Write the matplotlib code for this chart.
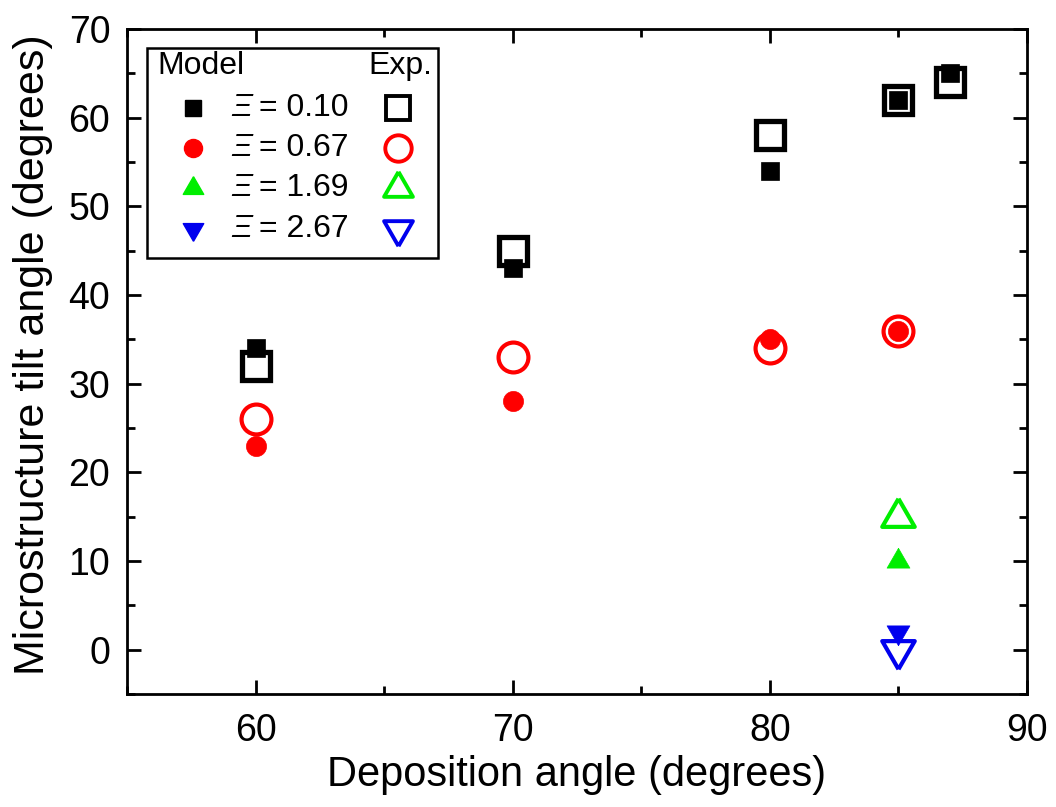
import numpy as np
import matplotlib
matplotlib.use("Agg")
import matplotlib.pyplot as plt
from matplotlib.ticker import MultipleLocator
from matplotlib.patches import Rectangle

plt.rcParams['font.family'] = ['Liberation Sans', 'DejaVu Sans']

# model results (filled) and experiment (open), one pair per Xi value
xi_labels = ['0.10', '0.67', '1.69', '2.67']
colors = ['#000000', '#ff0000', '#00ee00', '#0000ee']

model_x = [[60, 70, 80, 85, 87], [60, 70, 80, 85], [85], [85]]
model_y = [[34, 43, 54, 62, 65], [23, 28, 35, 36], [10], [2]]
exp_x = [[60, 70, 80, 85, 87], [60, 70, 80, 85], [85], [85]]
exp_y = [[32, 45, 58, 62, 64], [26, 33, 34, 36], [15], [0]]

# triangles with the centroid on the data point
tri_up = [(0, 1), (-0.866, -0.5), (0.866, -0.5), (0, 1)]
tri_dn = [(0, -1), (-0.866, 0.5), (0.866, 0.5), (0, -1)]
markers = ['s', 'o', tri_up, tri_dn]
fill_ms = [13.5, 14.5, 19, 19]
open_ms = [19.5, 21.5, 27, 27]
open_mew = [3.8, 3.0, 3.0, 3.0]

fig = plt.figure(figsize=(10.56, 8.07), dpi=100)
ax = fig.add_axes([0.1203, 0.140, 0.8522, 0.824])

for i in range(4):
    ax.plot(exp_x[i], exp_y[i], ls='none', marker=markers[i], ms=open_ms[i],
            mfc='none', mec=colors[i], mew=open_mew[i], zorder=3)
for i in range(4):
    ax.plot(model_x[i], model_y[i], ls='none', marker=markers[i], ms=fill_ms[i],
            mfc=colors[i], mec=colors[i], mew=0.5, zorder=4)

ax.set_xlim(55, 90)
ax.set_ylim(-5, 70)
ax.xaxis.set_major_locator(MultipleLocator(10))
ax.xaxis.set_minor_locator(MultipleLocator(5))
ax.yaxis.set_major_locator(MultipleLocator(10))
ax.yaxis.set_minor_locator(MultipleLocator(5))
ax.tick_params(which='both', direction='in', top=True, right=True, width=2,
               labelsize=27)
ax.tick_params(which='major', length=10)
ax.tick_params(which='minor', length=5.5)
ax.tick_params(axis='x', pad=14)
ax.tick_params(axis='y', pad=12)
for s in ax.spines.values():
    s.set_linewidth(2)

ax.set_xlabel('Deposition angle (degrees)', fontsize=30, labelpad=4)
ax.set_ylabel('Microstructure tilt angle (degrees)', fontsize=31, labelpad=11)
ax.yaxis.label.set_y(0.51)

# hand-made legend box: filled model marker, label, open experiment marker
def axpos(px, py):
    return (px - 127) / 900.0, (694 - py) / 665.0

x0, y1 = axpos(147, 48)
x1, y0 = axpos(438, 258)
ax.add_patch(Rectangle((x0, y0), x1 - x0, y1 - y0, transform=ax.transAxes,
                       fill=False, lw=1.8, ec='black', zorder=5))
hx, hy = axpos(157, 66)
ax.text(hx, hy, 'Model', transform=ax.transAxes, fontsize=23,
        ha='left', va='center', zorder=6)
hx, hy = axpos(432, 66)
ax.text(hx, hy, 'Exp.', transform=ax.transAxes, fontsize=23,
        ha='right', va='center', zorder=6)

row_py = [108, 148, 188, 229]
leg_fill = [12, 13, 17, 17]
leg_open = [17, 19, 24, 24]
for i in range(4):
    mx, my = axpos(193, row_py[i])
    ax.plot([mx], [my], transform=ax.transAxes, marker=markers[i],
            ms=leg_fill[i], mfc=colors[i], mec=colors[i], ls='none',
            clip_on=False, zorder=6)
    ox, oy = axpos(398, row_py[i])
    ax.plot([ox], [oy], transform=ax.transAxes, marker=markers[i],
            ms=leg_open[i], mfc='none', mec=colors[i], mew=2.8, ls='none',
            clip_on=False, zorder=6)
    tx, ty = axpos(231, row_py[i])
    ax.text(tx, ty, '\u039e', transform=ax.transAxes, fontsize=23,
            style='italic', ha='left', va='center', zorder=6)
    tx2, _ = axpos(259, row_py[i])
    ax.text(tx2, ty, '= ' + xi_labels[i], transform=ax.transAxes, fontsize=23,
            ha='left', va='center', zorder=6)

fig.savefig('out.png', dpi=100)
